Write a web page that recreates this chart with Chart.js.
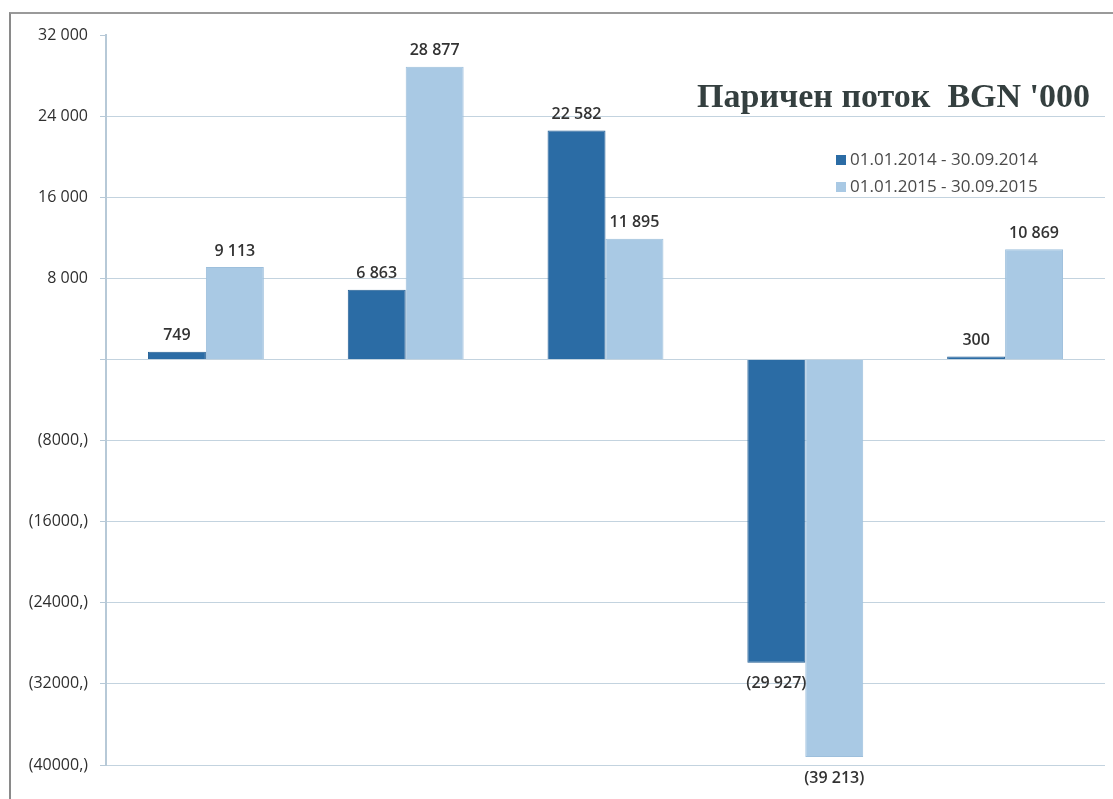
<!DOCTYPE html>
<html>
<head>
<meta charset="utf-8">
<script src="https://cdn.jsdelivr.net/npm/chart.js@4/dist/chart.umd.min.js"></script>
<style>
  html, body { margin: 0; padding: 0; background: #fff; }
  #wrap { position: relative; width: 1113px; height: 799px; }
  #frame { position: absolute; left: 9px; top: 12px; right: -4px; bottom: -4px;
           border-left: 2px solid #8a8a8a; border-top: 2px solid #9a9a9a; }
  canvas { position: absolute; left: 0; top: 0; }
</style>
</head>
<body>
<div id="wrap">
  <div id="frame"></div>
  <canvas id="c" width="1113" height="799"></canvas>
</div>
<script>
// Паричен поток, BGN '000
const categories = ['', '', '', '', ''];
const series2014 = [749, 6863, 22582, -29927, 300];
const series2015 = [9113, 28877, 11895, -39213, 10869];
const seriesNames = ['01.01.2014 - 30.09.2014', '01.01.2015 - 30.09.2015'];
const tickValues = [32000, 24000, 16000, 8000, 0, -8000, -16000, -24000, -32000, -40000];
const tickLabels = ['32 000', '24 000', '16 000', '8 000', '', '(8000,)', '(16000,)', '(24000,)', '(32000,)', '(40000,)'];
const chartTitle = "Паричен поток  BGN '000";

const DARK = '#2b6ca5';
const LIGHT = '#a9c9e4';
const GRID = '#c3d3df';

const fmt = (v) => {
  const s = Math.abs(v).toString().replace(/\B(?=(\d{3})+(?!\d))/g, ' ');
  return v < 0 ? '(' + s + ')' : s;
};

// подписи над/под колоните
const barLabels = {
  id: 'barLabels',
  afterDatasetsDraw(chart) {
    const ctx = chart.ctx;
    ctx.save();
    ctx.font = '600 16px "Open Sans"';
    ctx.fillStyle = '#333';
    ctx.textAlign = 'center';
    chart.data.datasets.forEach((ds, i) => {
      chart.getDatasetMeta(i).data.forEach((bar, j) => {
        const v = ds.data[j];
        if (v >= 0) {
          ctx.textBaseline = 'bottom';
          ctx.fillText(fmt(v), bar.x, bar.y - 8);
        } else {
          ctx.textBaseline = 'top';
          ctx.fillText(fmt(v), bar.x, bar.y + 13);
        }
      });
    });
    ctx.restore();
  }
};

// заглавие и легенда в горния десен ъгъл
const titleLegend = {
  id: 'titleLegend',
  afterDraw(chart) {
    const ctx = chart.ctx;
    ctx.save();
    ctx.font = 'bold 34px "Liberation Serif"';
    ctx.fillStyle = '#343f3f';
    ctx.textAlign = 'right';
    ctx.textBaseline = 'middle';
    ctx.fillText(chartTitle, 1090, 98);

    ctx.font = '17px "Open Sans"';
    ctx.textAlign = 'left';
    chart.data.datasets.forEach((ds, i) => {
      const y = 160 + i * 27;
      ctx.fillStyle = ds.backgroundColor;
      ctx.fillRect(836, y - 5, 10, 10);
      ctx.fillStyle = '#4a4a4a';
      ctx.fillText(seriesNames[i], 850, y);
    });
    ctx.restore();
  }
};

new Chart(document.getElementById('c'), {
  type: 'bar',
  data: {
    labels: categories,
    datasets: [
      { label: seriesNames[0], data: series2014, backgroundColor: DARK, borderColor: '#245f94', borderWidth: 1,
        categoryPercentage: 0.58, barPercentage: 1.0 },
      { label: seriesNames[1], data: series2015, backgroundColor: LIGHT, borderColor: '#9dbfdc', borderWidth: 1,
        categoryPercentage: 0.58, barPercentage: 1.0 },
    ],
  },
  options: {
    responsive: false,
    animation: false,
    layout: { padding: { top: 35, bottom: 34, right: 8, left: 0 } },
    plugins: {
      legend: { display: false },
      tooltip: { enabled: false },
    },
    scales: {
      x: { display: false, grid: { display: false } },
      y: {
        min: -40000,
        max: 32000,
        afterFit: (s) => { s.width = 106; },
        afterBuildTicks: (s) => { s.ticks = tickValues.map(v => ({ value: v })); },
        border: { color: '#b7c9d7', width: 2 },
        grid: {
          color: (c) => (c.tick && c.tick.value === 32000 ? 'rgba(0,0,0,0)' : GRID),
          lineWidth: 1, tickLength: 6, drawTicks: true, tickColor: '#b7c9d7',
        },
        ticks: {
          color: '#2f2f2f',
          font: { family: '"Open Sans"', size: 16 },
          padding: 12,
          callback: (v) => tickLabels[tickValues.indexOf(v)] ?? '',
        },
      },
    },
  },
  plugins: [barLabels, titleLegend],
});
</script>
</body>
</html>
